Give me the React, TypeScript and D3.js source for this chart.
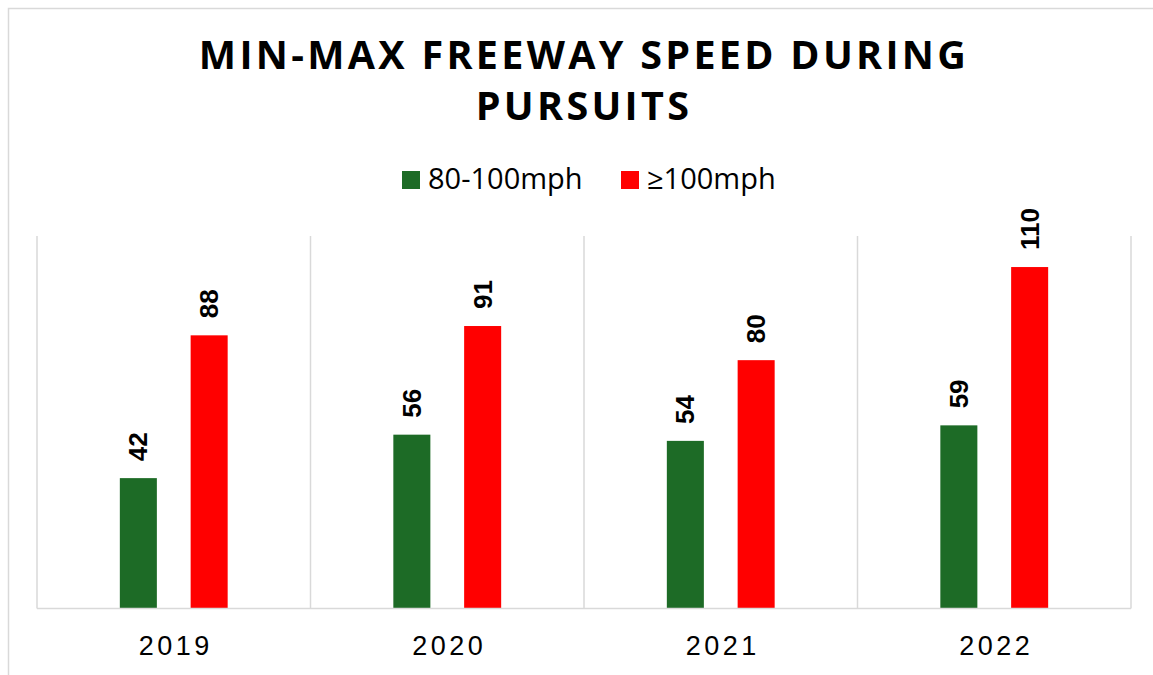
import React from "react";
import * as d3 from "d3";

const categories = ["2019", "2020", "2021", "2022"];
const seriesNames = ["80-100mph", "≥100mph"];
const seriesColors = ["#1d6b26", "#ff0000"];
const values80to100 = [42, 56, 54, 59];
const values100plus = [88, 91, 80, 110];
const titleLines = ["MIN-MAX FREEWAY SPEED DURING", "PURSUITS"];

const W = 1153;
const H = 675;

export default function App() {
  const x0 = d3.scaleBand<string>().domain(categories).range([37, 1131]).paddingInner(0).paddingOuter(0);
  const x1 = d3
    .scaleBand<string>()
    .domain(seriesNames)
    .range([0, x0.bandwidth()])
    .paddingInner(0.477)
    .paddingOuter(1.17);
  const y = d3.scaleLinear().domain([0, 120]).range([608.5, 236]);
  const seriesValues = [values80to100, values100plus];
  const gridXs = [...categories.map((c) => x0(c) as number), 1131];

  return (
    <svg width={W} height={H} style={{ position: "absolute", left: 0, top: 0, background: "#fff" }}>
      <rect x={8.5} y={8.5} width={W + 20} height={H + 20} fill="#fff" stroke="#d9d9d9" strokeWidth={1.5} />
      {titleLines.map((t, i) => (
        <text
          key={i}
          x={584}
          y={69 + i * 51}
          textAnchor="middle"
          fontFamily="'Open Sans', sans-serif"
          fontWeight={700}
          fontSize={39.5}
          letterSpacing={3.3}
          fill="#000"
        >
          {t}
        </text>
      ))}
      {/* legend */}
      {seriesNames.map((s, i) => {
        const lx = [402, 621][i];
        return (
          <g key={s}>
            <rect x={lx} y={171} width={18} height={18} fill={seriesColors[i]} />
            <text x={lx + 26} y={188.5} fontFamily="'Open Sans', sans-serif" fontSize={29} fill="#000">
              {s}
            </text>
          </g>
        );
      })}
      {/* gridlines */}
      {gridXs.map((gx, i) => (
        <line key={i} x1={gx} x2={gx} y1={236} y2={608.5} stroke="#d9d9d9" strokeWidth={1.5} />
      ))}
      {/* bars */}
      {categories.map((c, ci) => (
        <g key={c} transform={`translate(${x0(c)},0)`}>
          {seriesNames.map((s, si) => {
            const v = seriesValues[si][ci];
            const bx = x1(s) as number;
            const by = y(v);
            const cx = bx + x1.bandwidth() / 2;
            return (
              <g key={s}>
                <rect x={bx} y={by} width={x1.bandwidth()} height={y(0) - by} fill={seriesColors[si]} />
                <text
                  transform={`translate(${cx + 9},${by - 17}) rotate(-90)`}
                  fontFamily="'Liberation Sans', Arial, sans-serif"
                  fontWeight={700}
                  fontSize={26}
                  fill="#000"
                >
                  {v}
                </text>
              </g>
            );
          })}
        </g>
      ))}
      <line x1={37} x2={1131} y1={608.5} y2={608.5} stroke="#d9d9d9" strokeWidth={1.5} />
      {/* x tick labels */}
      {categories.map((c) => (
        <text
          key={c}
          x={(x0(c) as number) + x0.bandwidth() / 2 + 2}
          y={655}
          textAnchor="middle"
          fontFamily="'Liberation Sans', Arial, sans-serif"
          fontSize={27}
          letterSpacing={3.5}
          fill="#000"
        >
          {c}
        </text>
      ))}
    </svg>
  );
}
